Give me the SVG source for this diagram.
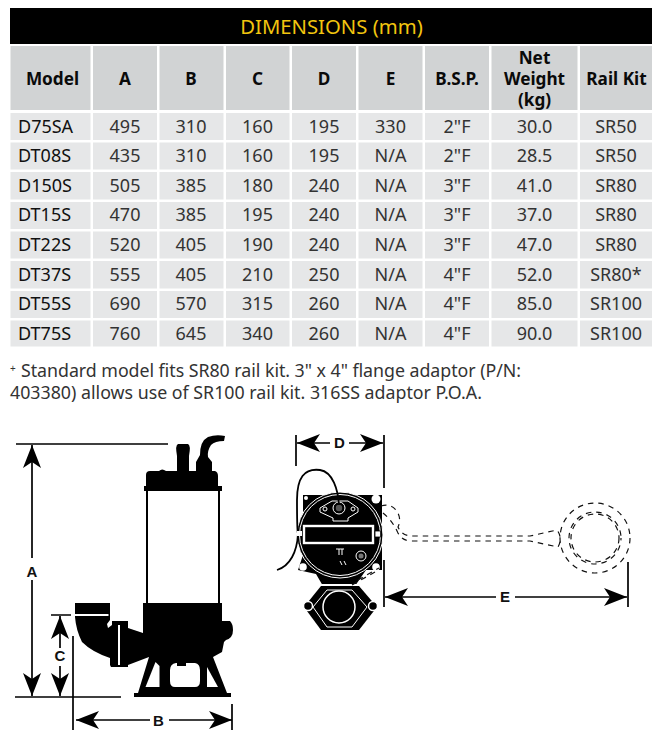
<svg xmlns="http://www.w3.org/2000/svg" width="669" height="743" viewBox="0 0 669 743">
<style>
text{font-family:"Noto Sans","Open Sans","Liberation Sans",sans-serif}
.h{fill:#d1d3d4}.c{fill:#e6e7e8}
.ht{font-size:17.200px;font-weight:700;fill:#0a0a0a;text-anchor:middle}
.t{font-size:18px;fill:#333;text-anchor:middle}
.m{font-size:18px;fill:#111}
.n{font-size:17.800px;fill:#333}
.l{font-family:"Liberation Sans",Arial,sans-serif;font-size:15px;font-weight:700;fill:#111;text-anchor:middle}
.dim{stroke:#000;stroke-width:1.7;fill:none}
.bk{fill:#000}
.w{fill:#fff}
.wl{fill:none;stroke:#fff;stroke-width:1}
.wire{fill:none;stroke:#000;stroke-width:1.8}
.dash{fill:none;stroke:#111;stroke-width:1.200;stroke-dasharray:5.500 5}
</style>
<defs>
<marker id="ar" viewBox="0 0 23 18" refX="23" refY="9" markerWidth="23" markerHeight="18" markerUnits="userSpaceOnUse" orient="auto-start-reverse"><path d="M0 0L23 9L0 18L6 9Z" fill="#000"/></marker>
</defs>
<g id="table">
<rect x="10" y="8" width="642" height="36" fill="#000"/>
<text x="331.500" y="34" font-size="20.300" fill="#f2c50f" text-anchor="middle">DIMENSIONS (mm)</text>
<g class="h">
<rect x="10.5" y="46" width="80" height="64"/><rect x="93" y="46" width="64" height="64"/><rect x="159.500" y="46" width="64" height="64"/><rect x="226" y="46" width="63.500" height="64"/><rect x="292" y="46" width="64" height="64"/><rect x="358.500" y="46" width="64" height="64"/><rect x="425" y="46" width="64" height="64"/><rect x="491.500" y="46" width="86" height="64"/><rect x="580" y="46" width="72" height="64"/>
</g>
<text class="ht" x="52.500" y="85">Model</text><text class="ht" x="125" y="85">A</text><text class="ht" x="191" y="85">B</text><text class="ht" x="257.500" y="85">C</text><text class="ht" x="324" y="85">D</text><text class="ht" x="390.500" y="85">E</text><text class="ht" x="457" y="85">B.S.P.</text>
<text class="ht" x="534.500" y="64">Net</text><text class="ht" x="534.500" y="85">Weight</text><text class="ht" x="534.500" y="106">(kg)</text>
<text class="ht" x="616.500" y="85">Rail Kit</text>
<g class="c">
<rect x="10.500" y="113" width="80" height="27"/><rect x="93" y="113" width="64" height="27"/><rect x="159.500" y="113" width="64" height="27"/><rect x="226" y="113" width="63.500" height="27"/><rect x="292" y="113" width="64" height="27"/><rect x="358.500" y="113" width="64" height="27"/><rect x="425" y="113" width="64" height="27"/><rect x="491.500" y="113" width="86" height="27"/><rect x="580" y="113" width="72" height="27"/>
<rect x="10.500" y="142.500" width="80" height="27"/><rect x="93" y="142.500" width="64" height="27"/><rect x="159.500" y="142.500" width="64" height="27"/><rect x="226" y="142.500" width="63.500" height="27"/><rect x="292" y="142.500" width="64" height="27"/><rect x="358.500" y="142.500" width="64" height="27"/><rect x="425" y="142.500" width="64" height="27"/><rect x="491.500" y="142.500" width="86" height="27"/><rect x="580" y="142.500" width="72" height="27"/>
<rect x="10.500" y="172" width="80" height="27.500"/><rect x="93" y="172" width="64" height="27.500"/><rect x="159.500" y="172" width="64" height="27.500"/><rect x="226" y="172" width="63.500" height="27.500"/><rect x="292" y="172" width="64" height="27.500"/><rect x="358.500" y="172" width="64" height="27.500"/><rect x="425" y="172" width="64" height="27.500"/><rect x="491.500" y="172" width="86" height="27.500"/><rect x="580" y="172" width="72" height="27.500"/>
<rect x="10.500" y="202" width="80" height="27"/><rect x="93" y="202" width="64" height="27"/><rect x="159.500" y="202" width="64" height="27"/><rect x="226" y="202" width="63.500" height="27"/><rect x="292" y="202" width="64" height="27"/><rect x="358.500" y="202" width="64" height="27"/><rect x="425" y="202" width="64" height="27"/><rect x="491.500" y="202" width="86" height="27"/><rect x="580" y="202" width="72" height="27"/>
<rect x="10.500" y="231.500" width="80" height="27"/><rect x="93" y="231.500" width="64" height="27"/><rect x="159.500" y="231.500" width="64" height="27"/><rect x="226" y="231.500" width="63.500" height="27"/><rect x="292" y="231.500" width="64" height="27"/><rect x="358.500" y="231.500" width="64" height="27"/><rect x="425" y="231.500" width="64" height="27"/><rect x="491.500" y="231.500" width="86" height="27"/><rect x="580" y="231.500" width="72" height="27"/>
<rect x="10.500" y="261" width="80" height="27.500"/><rect x="93" y="261" width="64" height="27.500"/><rect x="159.500" y="261" width="64" height="27.500"/><rect x="226" y="261" width="63.500" height="27.500"/><rect x="292" y="261" width="64" height="27.500"/><rect x="358.500" y="261" width="64" height="27.500"/><rect x="425" y="261" width="64" height="27.500"/><rect x="491.500" y="261" width="86" height="27.500"/><rect x="580" y="261" width="72" height="27.500"/>
<rect x="10.500" y="291" width="80" height="27"/><rect x="93" y="291" width="64" height="27"/><rect x="159.500" y="291" width="64" height="27"/><rect x="226" y="291" width="63.500" height="27"/><rect x="292" y="291" width="64" height="27"/><rect x="358.500" y="291" width="64" height="27"/><rect x="425" y="291" width="64" height="27"/><rect x="491.500" y="291" width="86" height="27"/><rect x="580" y="291" width="72" height="27"/>
<rect x="10.500" y="320.500" width="80" height="26"/><rect x="93" y="320.500" width="64" height="26"/><rect x="159.500" y="320.500" width="64" height="26"/><rect x="226" y="320.500" width="63.500" height="26"/><rect x="292" y="320.500" width="64" height="26"/><rect x="358.500" y="320.500" width="64" height="26"/><rect x="425" y="320.500" width="64" height="26"/><rect x="491.500" y="320.500" width="86" height="26"/><rect x="580" y="320.500" width="72" height="26"/>
</g>
<text class="m" x="18" y="133">D75SA</text><text class="t" x="125" y="133">495</text><text class="t" x="191" y="133">310</text><text class="t" x="257.500" y="133">160</text><text class="t" x="324" y="133">195</text><text class="t" x="390.500" y="133">330</text><text class="t" x="457" y="133">2"F</text><text class="t" x="534.500" y="133">30.0</text><text class="t" x="616" y="133">SR50</text>
<text class="m" x="18" y="162">DT08S</text><text class="t" x="125" y="162">435</text><text class="t" x="191" y="162">310</text><text class="t" x="257.500" y="162">160</text><text class="t" x="324" y="162">195</text><text class="t" x="390.500" y="162">N/A</text><text class="t" x="457" y="162">2"F</text><text class="t" x="534.500" y="162">28.5</text><text class="t" x="616" y="162">SR50</text>
<text class="m" x="18" y="192">D150S</text><text class="t" x="125" y="192">505</text><text class="t" x="191" y="192">385</text><text class="t" x="257.500" y="192">180</text><text class="t" x="324" y="192">240</text><text class="t" x="390.500" y="192">N/A</text><text class="t" x="457" y="192">3"F</text><text class="t" x="534.500" y="192">41.0</text><text class="t" x="616" y="192">SR80</text>
<text class="m" x="18" y="221">DT15S</text><text class="t" x="125" y="221">470</text><text class="t" x="191" y="221">385</text><text class="t" x="257.500" y="221">195</text><text class="t" x="324" y="221">240</text><text class="t" x="390.500" y="221">N/A</text><text class="t" x="457" y="221">3"F</text><text class="t" x="534.500" y="221">37.0</text><text class="t" x="616" y="221">SR80</text>
<text class="m" x="18" y="251">DT22S</text><text class="t" x="125" y="251">520</text><text class="t" x="191" y="251">405</text><text class="t" x="257.500" y="251">190</text><text class="t" x="324" y="251">240</text><text class="t" x="390.500" y="251">N/A</text><text class="t" x="457" y="251">3"F</text><text class="t" x="534.500" y="251">47.0</text><text class="t" x="616" y="251">SR80</text>
<text class="m" x="18" y="281">DT37S</text><text class="t" x="125" y="281">555</text><text class="t" x="191" y="281">405</text><text class="t" x="257.500" y="281">210</text><text class="t" x="324" y="281">250</text><text class="t" x="390.500" y="281">N/A</text><text class="t" x="457" y="281">4"F</text><text class="t" x="534.500" y="281">52.0</text><text class="t" x="616" y="281">SR80*</text>
<text class="m" x="18" y="310">DT55S</text><text class="t" x="125" y="310">690</text><text class="t" x="191" y="310">570</text><text class="t" x="257.500" y="310">315</text><text class="t" x="324" y="310">260</text><text class="t" x="390.500" y="310">N/A</text><text class="t" x="457" y="310">4"F</text><text class="t" x="534.500" y="310">85.0</text><text class="t" x="616" y="310">SR100</text>
<text class="m" x="18" y="340">DT75S</text><text class="t" x="125" y="340">760</text><text class="t" x="191" y="340">645</text><text class="t" x="257.500" y="340">340</text><text class="t" x="324" y="340">260</text><text class="t" x="390.500" y="340">N/A</text><text class="t" x="457" y="340">4"F</text><text class="t" x="534.500" y="340">90.0</text><text class="t" x="616" y="340">SR100</text>
</g>
<g id="footnote">
<text class="n" x="10" y="377"><tspan font-size="10" dy="-5">+</tspan><tspan x="21" dy="5" textLength="500" lengthAdjust="spacing">Standard model fits SR80 rail kit. 3" x 4" flange adaptor (P/N:</tspan></text>
<text class="n" x="10" y="399">403380) allows use of SR100 rail kit. 316SS adaptor P.O.A.</text>
</g>
<g id="pump-side">
<path class="bk" d="M144 486H146V475Q146 471 150 471H159Q162 468 166 471H177V456Q175 445 178 444H188Q191 445 189 456V471H196V462L200 455Q200 441 208 437Q216 434 225 436L224 441Q215 441 211 445Q207 451 208 457L212 462V471H215Q218 472 218 476V486H222V491H144Z"/>
<rect x="146" y="491" width="2" height="112" class="bk"/><rect x="218" y="491" width="2" height="112" class="bk"/>
<path class="bk" d="M143 603H222V621H230Q233 624 233 630Q233 638 226 640L224 642L222 652L213 657L227 693H231V697H134V693H138L149 657L128 665V667H111L110 665L110 658Q92 652 82 642Q76 630 75 617V603H110V620L107 624L108 628L112 625V621H128V628L143 633Z"/>
<path class="w" d="M75 614H108.500V616H75ZM118 625H120V665H118Z"/>
<path class="w" d="M155.500 662L145.500 687H159.500V666Z"/>
<path class="w" d="M170 670Q170 664 176 663H177V666H186V663H195Q200 664 200 670V681Q200 687 195 687H175Q170 687 170 681Z"/>
<path class="w" d="M207 667L218 687H207Z"/>
</g>
<g id="pump-top">
<path class="bk" d="M303 495H382V570H366L355 586H323L316 574L298 570L303 555Z"/>
<circle cx="340" cy="535" r="43" fill="#000" stroke="#fff" stroke-width="1"/>
<circle cx="340" cy="535" r="40.500" class="wl"/>
<circle cx="376" cy="499" r="4.500" class="w"/><circle cx="303" cy="567" r="3.800" class="w"/><circle cx="376" cy="567" r="3.800" class="w"/><circle cx="306" cy="498" r="2" class="w"/>
<path class="wl" d="M320 508L332 501H348L358 508V512L348 518V521H333V518L320 512Z"/>
<circle cx="339" cy="508" r="6" class="wl"/><circle cx="339" cy="508" r="3.200" fill="#555"/><circle cx="325" cy="509" r="2" class="wl"/><circle cx="353" cy="509" r="2" class="wl"/>
<path class="wire" d="M339 505C338 490 333 472 320 470C304 468 297 478 297 500C297 515 297 530 298 534C297 552 290 566 277 570"/>
<rect x="304" y="526" width="69" height="17" fill="#000" stroke="#fff" stroke-width="2.400"/>
<rect x="297" y="531" width="5" height="5" class="w"/><rect x="375" y="531" width="5.500" height="6" fill="#fff" stroke="#000" stroke-width=".8"/>
<circle cx="361" cy="556" r="5" class="wl"/><circle cx="361" cy="556" r="2.500" fill="#777"/>
<path class="wl" d="M336 549H344M339 549V555M342 549V555M340 561L342 565M344 561L346 565" stroke-width="1.200"/>
<path class="w" d="M302 606L320 584H360L379 606L360 632H320Z"/>
<path class="bk" d="M304 607L321 586H359L377 607L359 630H321Z"/>
<path class="wl" d="M327 590H352L367 607L352 627H327L313 607Z" stroke-width="1.500"/>
<circle cx="339" cy="607" r="16" fill="#000" stroke="#fff" stroke-width="1.500"/>
<circle cx="308" cy="606" r="4.500" fill="#000" stroke="#fff" stroke-width="1.500"/><circle cx="373" cy="606" r="4.500" fill="#000" stroke="#fff" stroke-width="1.500"/>
<path class="dash" d="M381 506Q390 503 396 510Q402 518 398 527Q402 536 412 536H530L557 530M383 513Q392 520 398 533Q402 541 412 541H530L558 547Q563 538 557 530"/>
<circle cx="595" cy="538" r="35" class="dash"/>
<circle cx="595" cy="538" r="24" class="dash"/>
<circle cx="595" cy="538" r="26" class="dash" stroke-dashoffset="3"/>
<path class="dash" d="M352 585L375 572M358 580L379 568"/>
</g>
<g id="dimension-lines">
<path class="dim" d="M16 444H168M15 697H121M73 636V730M51 615H71M232 704V730M296 435V466M384 435V488M384 560V607M628 562V607"/>
<path class="dim" marker-start="url(#ar)" d="M32 445V558"/><path class="dim" marker-start="url(#ar)" d="M32 696V580"/>
<path class="dim" marker-start="url(#ar)" d="M60 616V648"/><path class="dim" marker-start="url(#ar)" d="M60 696V666"/>
<path class="dim" marker-start="url(#ar)" d="M76 720H150"/><path class="dim" marker-start="url(#ar)" d="M232 720H169"/>
<path class="dim" marker-start="url(#ar)" d="M297 443H330"/><path class="dim" marker-start="url(#ar)" d="M383 443H349"/>
<path class="dim" marker-start="url(#ar)" d="M385 597H496"/><path class="dim" marker-start="url(#ar)" d="M627 597H515"/>
</g>
<g id="dimension-labels">
<text class="l" x="32" y="577">A</text><text class="l" x="60" y="661">C</text><text class="l" x="158.500" y="726">B</text><text class="l" x="339.500" y="448">D</text><text class="l" x="505" y="602">E</text>
</g>
</svg>
